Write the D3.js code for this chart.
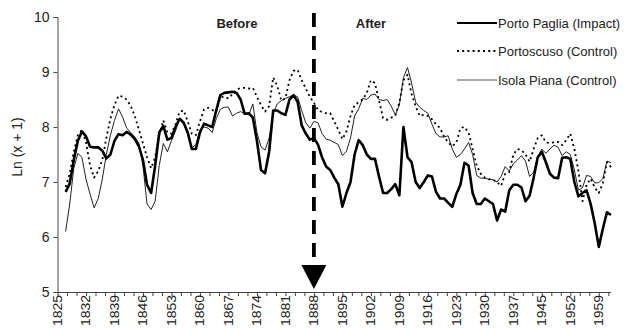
<!DOCTYPE html>
<html>
<head>
<meta charset="utf-8">
<script src="https://cdn.jsdelivr.net/npm/d3@7"></script>
<style>
  html, body { margin: 0; padding: 0; background: #fff; }
  svg { display: block; }
  text { font-family: "Liberation Sans", Arial, sans-serif; fill: #222; }
</style>
</head>
<body>
<svg id="chart" width="625" height="329"></svg>
<script>
// Survey years on the category axis (no record for 1943)
const years = d3.range(1825, 1963).filter(y => y !== 1943);
const labelYears = [1825, 1832, 1839, 1846, 1853, 1860, 1867, 1874, 1881, 1888,
                    1895, 1902, 1909, 1916, 1923, 1930, 1937, 1945, 1952, 1959];
const yTicks = [5, 6, 7, 8, 9, 10];
const firstYear = 1827;
const interventionYear = 1888;

const portoPaglia = [
  6.82, 6.97, 7.4, 7.75, 7.92, 7.83, 7.64, 7.63, 7.63, 7.57,
  7.43, 7.5, 7.75, 7.87, 7.85, 7.91, 7.86, 7.78, 7.65, 7.4,
  6.95, 6.8, 7.3, 7.9, 8.02, 7.77, 7.8, 8.0, 8.15, 8.08,
  7.9, 7.6, 7.6, 7.9, 8.06, 8.03, 8.0, 8.3, 8.58, 8.62,
  8.63, 8.64, 8.62, 8.5, 8.24, 8.25, 8.17, 7.75, 7.22, 7.16,
  7.55, 8.3, 8.3, 8.25, 8.22, 8.5, 8.58, 8.46, 8.03, 7.88,
  7.77, 7.8, 7.68, 7.45, 7.28, 7.22, 7.08, 6.96, 6.55, 6.8,
  7.0, 7.5, 7.76, 7.67, 7.5, 7.42, 7.42, 7.1, 6.8, 6.8,
  6.87, 6.96, 6.76, 8.0, 7.45, 7.36, 7.0, 6.89, 7.0, 7.12,
  7.1, 6.82, 6.7, 6.7, 6.62, 6.55, 6.78, 6.95, 7.35, 7.3,
  6.8, 6.6, 6.6, 6.7, 6.65, 6.6, 6.3, 6.5, 6.46, 6.85,
  6.95, 6.95, 6.9, 6.65, 6.75, 7.08, 7.45, 7.55, 7.36, 7.15,
  7.08, 7.07, 7.44, 7.45, 7.42, 7.0, 6.74, 6.8, 6.85, 6.6,
  6.25, 5.82, 6.15, 6.45, 6.4
];
const portoscuso = [
  6.91, 7.15, 7.55, 7.85, 7.95, 7.72, 7.3, 7.08, 7.2, 7.4,
  7.8, 8.15, 8.4, 8.57, 8.55, 8.5, 8.38, 8.2, 7.95, 7.7,
  7.45, 7.25, 7.45, 7.85, 8.12, 7.9, 7.88, 8.05, 8.28, 8.3,
  8.1, 7.88, 7.85, 8.1, 8.32, 8.35, 8.31, 8.28, 8.54, 8.55,
  8.52, 8.6, 8.68, 8.71, 8.71, 8.7, 8.71, 8.55, 8.4, 8.28,
  8.38, 8.9, 8.75, 8.48, 8.52, 8.85, 9.02, 9.04, 8.85, 8.7,
  8.55, 8.44, 8.31, 8.27, 8.25, 8.25, 8.1, 7.95, 7.78, 7.92,
  8.2, 8.4, 8.45, 8.5, 8.62, 8.85, 8.8, 8.48, 8.16, 8.13,
  8.17, 8.2, 8.45, 8.85, 8.95, 8.6, 8.38, 8.2, 8.22, 8.2,
  8.14, 8.05, 7.98, 7.82, 7.72, 7.65, 7.72, 7.98, 8.0, 7.9,
  7.6, 7.3, 7.15, 7.08, 7.05, 7.04, 7.0, 6.93, 7.15, 7.18,
  7.5, 7.6, 7.58, 7.5, 7.37, 7.6, 7.8, 7.85, 7.72, 7.71,
  7.72, 7.73, 7.67, 7.76, 7.88, 7.6, 7.2, 6.65, 6.95, 7.06,
  6.9, 6.8, 6.98, 7.36, 7.27
];
const isolaPiana = [
  6.1, 6.6, 7.25, 7.52, 7.45, 7.05, 6.78, 6.53, 6.7, 7.05,
  7.5, 7.85, 8.12, 8.33, 8.18, 7.98, 7.9, 7.82, 7.7, 7.3,
  6.6, 6.5, 6.65, 7.3, 7.7, 7.55, 7.75, 7.93, 8.14, 8.05,
  7.87, 7.62, 7.68, 7.95, 8.0, 7.98, 7.9, 8.15, 8.32, 8.36,
  8.36, 8.2, 8.25, 8.28, 8.24, 8.22, 8.42, 7.9, 7.64, 7.58,
  7.8, 8.25, 8.42, 8.48, 8.52, 8.55, 8.58, 8.55, 8.3, 8.08,
  7.98, 8.1, 8.08, 7.88, 7.78, 7.76, 7.72, 7.68, 7.48, 7.56,
  7.8, 8.2, 8.33, 8.52, 8.5, 8.58, 8.6, 8.5, 8.48, 8.5,
  8.38, 8.22, 8.4, 8.9, 9.08, 8.8, 8.45, 8.36, 8.3, 8.25,
  8.05, 7.88, 7.82, 7.82, 7.84, 7.6, 7.45, 7.5, 7.6, 7.72,
  7.5, 7.12, 7.07, 7.07, 7.05, 7.04, 7.0, 7.1, 7.28, 7.2,
  7.33, 7.4, 7.48, 7.38, 7.1, 7.18, 7.45, 7.6, 7.52, 7.6,
  7.67, 7.63, 7.48, 7.55, 7.5, 7.22, 6.85, 6.9, 7.12, 7.1,
  6.98, 6.99, 7.06, 7.38, 7.35
];

const seriesNames = ["Porto Paglia (Impact)", "Portoscuso (Control)", "Isola Piana (Control)"];
const seriesValues = [portoPaglia, portoscuso, isolaPiana];
const seriesStyle = [
  { width: 2.6, dash: null, color: "#000" },
  { width: 1.8, dash: "2,3.2", color: "#000" },
  { width: 1, dash: null, color: "#222" }
];

const svg = d3.select("#chart");
const plotLeft = 57.5, plotRight = 611, plotTop = 17, plotBottom = 292;

const xi = d3.scaleLinear().domain([0, years.length - 1]).range([plotLeft, plotRight]);
const xYear = yr => xi(years.indexOf(yr));
const y = d3.scaleLinear().domain([5, 10]).range([plotBottom, plotTop]);

const axisColor = "#444";

// Y axis
const yAxis = d3.axisLeft(y).tickValues(yTicks).tickSize(4).tickPadding(4).tickFormat(d3.format("d"));
const gy = svg.append("g").attr("transform", `translate(${plotLeft},0)`).call(yAxis);
gy.select(".domain").attr("stroke", axisColor);
gy.selectAll(".tick line").attr("stroke", axisColor);
gy.selectAll(".tick text").attr("font-size", 14).attr("fill", "#222")
  .attr("font-family", "Liberation Sans, Arial, sans-serif");

// X axis: tick marks every third of a label interval, labels every seventh category
const tickIdx = [];
for (let k = 0; k * 7 / 3 <= years.length - 1; k++) tickIdx.push(k * 7 / 3);
const xAxis = d3.axisBottom(xi).tickValues(tickIdx).tickSize(4).tickFormat("");
const gx = svg.append("g").attr("transform", `translate(0,${plotBottom})`).call(xAxis);
gx.select(".domain").attr("stroke", axisColor).attr("d", `M${plotLeft},0.5H${plotRight}`);
gx.selectAll(".tick line").attr("stroke", axisColor);

svg.append("g").selectAll("text")
  .data(labelYears)
  .join("text")
  .attr("transform", d => `translate(${xYear(d)},${plotBottom + 3}) rotate(-90)`)
  .attr("text-anchor", "end")
  .attr("dy", "0.36em")
  .attr("font-size", 12)
  .attr("textLength", 31)
  .attr("lengthAdjust", "spacingAndGlyphs")
  .text(d => d);

// Y axis title
svg.append("text")
  .attr("transform", `translate(22,147) rotate(-90)`)
  .attr("text-anchor", "middle")
  .attr("font-size", 14)
  .text("Ln (x + 1)");

// Series lines
const line = d3.line()
  .x((d, i) => xYear(firstYear) + (xi(1) - xi(0)) * i)
  .y(d => y(d));

// draw controls first, impact on top
[2, 1, 0].forEach(s => {
  const st = seriesStyle[s];
  svg.append("path")
    .datum(seriesValues[s])
    .attr("fill", "none")
    .attr("stroke", st.color)
    .attr("stroke-width", st.width)
    .attr("stroke-linejoin", "round")
    .attr("stroke-dasharray", st.dash)
    .attr("d", line);
});

// Intervention marker
const xm = xYear(interventionYear);
svg.append("line")
  .attr("x1", xm).attr("x2", xm)
  .attr("y1", 13).attr("y2", 268)
  .attr("stroke", "#000")
  .attr("stroke-width", 3.8)
  .attr("stroke-dasharray", "14,9");
svg.append("path")
  .attr("d", `M${xm - 12.5},265 L${xm + 12.5},265 L${xm},289 Z`)
  .attr("fill", "#000");

svg.append("text").attr("x", 237).attr("y", 28).attr("text-anchor", "middle")
  .attr("font-size", 13).attr("font-weight", "bold").text("Before");
svg.append("text").attr("x", 371).attr("y", 28).attr("text-anchor", "middle")
  .attr("font-size", 13).attr("font-weight", "bold").text("After");

// Legend
const legY = [23, 51, 80];
const lg = svg.append("g");
seriesNames.forEach((name, s) => {
  const st = seriesStyle[s];
  lg.append("line")
    .attr("x1", 457).attr("x2", 497)
    .attr("y1", legY[s]).attr("y2", legY[s])
    .attr("stroke", s === 2 ? "#555" : st.color)
    .attr("stroke-width", s === 0 ? 2 : st.width)
    .attr("stroke-dasharray", st.dash);
  lg.append("text")
    .attr("x", 498).attr("y", legY[s])
    .attr("dy", "0.35em")
    .attr("font-size", 13)
    .text(name);
});
</script>
</body>
</html>
